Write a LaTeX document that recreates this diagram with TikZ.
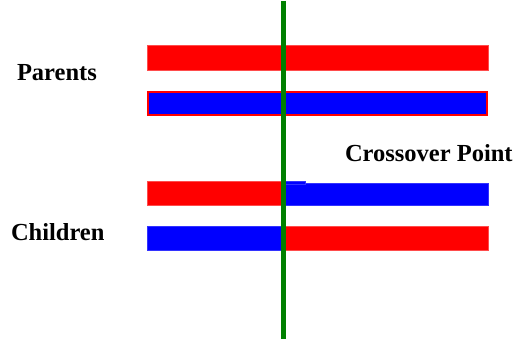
\documentclass[tikz,border=0pt]{standalone}
\usepackage{fontspec}
\setmainfont{Liberation Serif}
\definecolor{xgreen}{RGB}{0,128,0}
\begin{document}
\begin{tikzpicture}
  [x=1pt,y=-1pt,every node/.style={inner sep=0pt,outer sep=0pt,anchor=north west},
   redbar/.style={fill=red,draw=red!70,line width=0.5pt},
   bluebar/.style={fill=blue,draw=blue!80,line width=0.5pt},
   label/.style={anchor=base west,font=\fontsize{24.5}{28}\selectfont\bfseries}]
\useasboundingbox (0,0) rectangle (515,339);
  % Padres
  \node[redbar,minimum width=341pt,minimum height=25pt] (p1) at (147,45) {};
  \node[bluebar,draw=red,line width=1.5pt,minimum width=339pt,minimum height=23pt] (p2) at (148,92) {};

  % Hijos
  \node[redbar,minimum width=135pt,minimum height=24pt] (c1a) at (147,181) {};
  \node[bluebar,minimum width=205pt,minimum height=22pt] (c1b) at (283,183) {};
  \node[bluebar,minimum width=22pt,minimum height=3pt] (c1n) at (283,181) {};
  \node[bluebar,minimum width=135pt,minimum height=24pt] (c2a) at (147,226) {};
  \node[redbar,minimum width=205pt,minimum height=24pt] (c2b) at (283,226) {};

  % Punto de cruce
  \coordinate (top) at (283.5,1);
  \coordinate (bot) at (283.5,339);
  \draw[xgreen,line width=5pt] (top) -- (bot);

  \node[label] (par) at (17,81) {Parents};
  \node[label] (chi) at (11,241) {Children};
  \node[label] (cp) at (345,162) {Crossover Point};
\end{tikzpicture}
\end{document}
